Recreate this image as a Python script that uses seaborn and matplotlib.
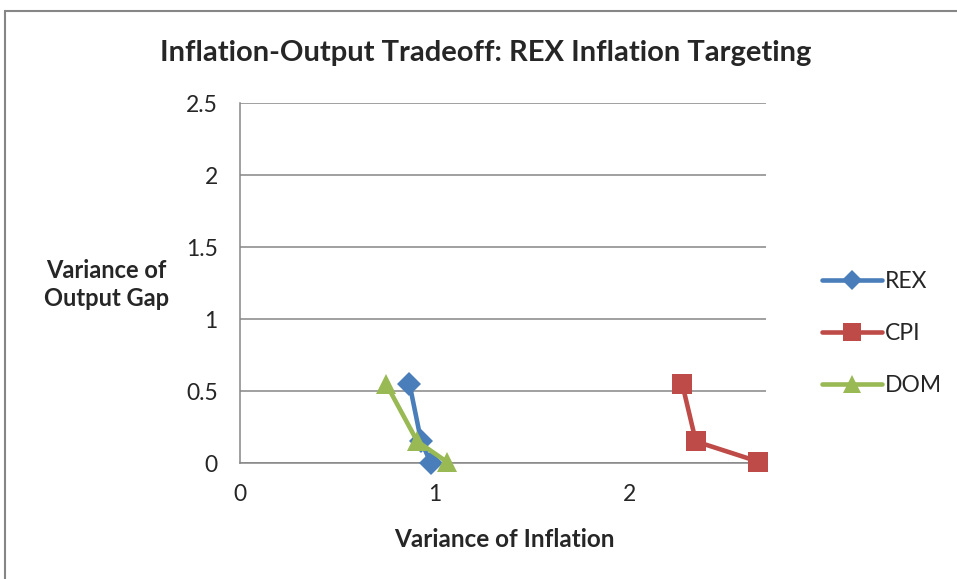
import numpy as np
import pandas as pd
import matplotlib
matplotlib.use("Agg")
import matplotlib.pyplot as plt
import seaborn as sns
from matplotlib.patches import Rectangle
from matplotlib.lines import Line2D

# Datos
series = ['REX', 'CPI', 'DOM']
rex_x = [0.87, 0.93, 0.98]
rex_y = [0.55, 0.15, 0.00]
cpi_x = [2.27, 2.34, 2.66]
cpi_y = [0.55, 0.15, 0.01]
dom_x = [0.75, 0.91, 1.06]
dom_y = [0.55, 0.15, 0.01]

colores = {'REX': '#4A7EBB', 'CPI': '#BE4B48', 'DOM': '#98B954'}
marcadores = {'REX': 'D', 'CPI': 's', 'DOM': '^'}
tamanos = {'REX': 12, 'CPI': 14.5, 'DOM': 15}

df = pd.DataFrame({
    'serie': ['REX'] * 3 + ['CPI'] * 3 + ['DOM'] * 3,
    'inflacion': rex_x + cpi_x + dom_x,
    'producto': rex_y + cpi_y + dom_y,
})

sns.set_style("white")
plt.rcParams['font.family'] = ['Lato', 'DejaVu Sans']

fig = plt.figure(figsize=(9.57, 5.79), dpi=100)
ax = fig.add_axes([0.2508, 0.2003, 0.5496, 0.6218])

for s in series:
    d = df[df['serie'] == s]
    sns.lineplot(data=d, x='inflacion', y='producto', sort=False, ax=ax,
                 color=colores[s], lw=3.3, marker=marcadores[s],
                 markersize=tamanos[s], markeredgewidth=0, label=None,
                 clip_on=False, zorder=3)

ax.set_xlim(0, 2.7)
ax.set_ylim(0, 2.5)
ax.set_xticks([0, 1, 2])
ax.set_yticks([0, 0.5, 1, 1.5, 2, 2.5])
ax.set_yticklabels(['0', '0.5', '1', '1.5', '2', '2.5'])
ax.grid(axis='y', color='#868686', lw=1.1)
ax.grid(axis='x', visible=False)
ax.set_axisbelow(True)
for lado in ['top', 'right']:
    ax.spines[lado].set_visible(False)
for lado in ['left', 'bottom']:
    ax.spines[lado].set_color('#868686')
    ax.spines[lado].set_linewidth(1.1)
ax.tick_params(axis='both', direction='out', length=6, width=1.1, color='#868686',
               labelsize=16.5)
ax.tick_params(axis='y', pad=10)
ax.tick_params(axis='x', pad=9)
ax.set_xlabel('')
ax.set_ylabel('')

fig.text(0.507, 0.908, 'Inflation-Output Tradeoff: REX Inflation Targeting',
         ha='center', va='center', fontsize=21, fontweight='bold')
fig.text(0.111, 0.508, 'Variance of\nOutput Gap', ha='center', va='center',
         fontsize=17, fontweight='bold', linespacing=1.25)
fig.text(0.527, 0.068, 'Variance of Inflation', ha='center', va='center',
         fontsize=17.5, fontweight='bold')

handles = [Line2D([], [], color=colores[s], lw=3.3, marker=marcadores[s],
                  markersize=tamanos[s] * 0.85, markeredgewidth=0) for s in series]
fig.legend(handles, series, loc='center left', bbox_to_anchor=(0.859, 0.424),
           frameon=False, fontsize=16.5, handlelength=2.6, labelspacing=1.35,
           handletextpad=0.12, borderpad=0, borderaxespad=0)

# Marco exterior del grafico
fig.patches.append(Rectangle((5 / 957, -0.05), 1.1, 1 - 11 / 579 + 0.05,
                             transform=fig.transFigure, fill=False,
                             edgecolor='#868686', lw=1.5))

fig.savefig('out.png', dpi=100)
